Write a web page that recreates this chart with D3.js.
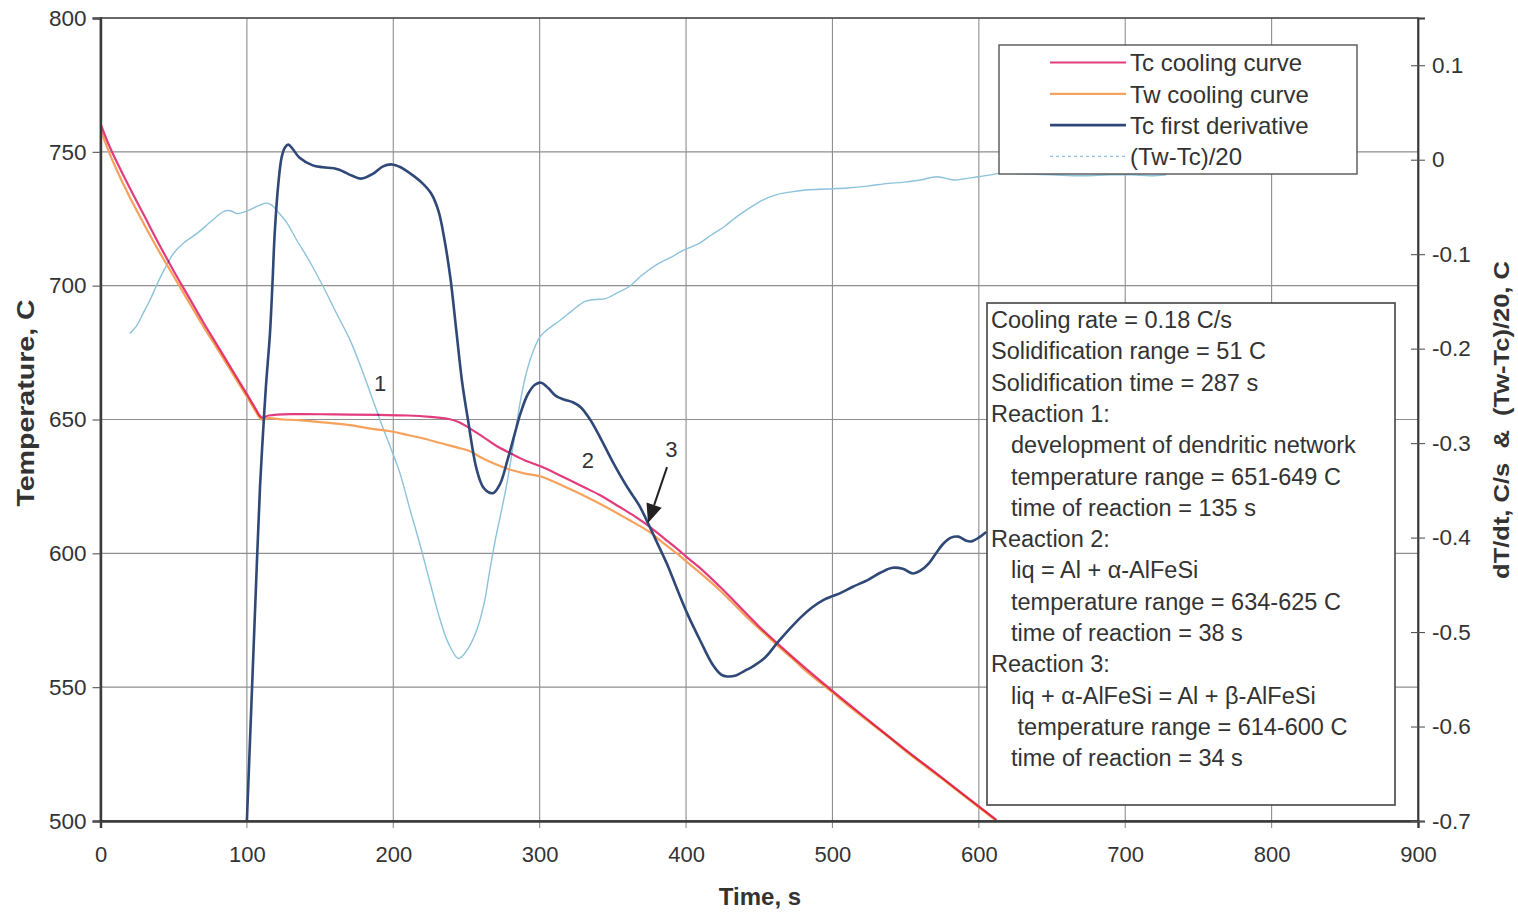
<!DOCTYPE html>
<html>
<head>
<meta charset="utf-8">
<script src="https://cdn.jsdelivr.net/npm/d3@7"></script>
<style>
  body { margin: 0; background: #fff; }
  text { font-family: "Liberation Sans", Arial, sans-serif; fill: #333; }
</style>
</head>
<body>
<svg id="chart" width="1518" height="912"></svg>
<script>
// ---- axis ticks ----
const timeTicks = [0, 100, 200, 300, 400, 500, 600, 700, 800, 900];
const tempTicks = [500, 550, 600, 650, 700, 750, 800];
const rateTicks = [-0.7, -0.6, -0.5, -0.4, -0.3, -0.2, -0.1, 0, 0.1];
const rateTickLabels = ["-0.7", "-0.6", "-0.5", "-0.4", "-0.3", "-0.2", "-0.1", "0", "0.1"];

// ---- Tc cooling curve (centre thermocouple), C ----
const tcTime = [0, 5, 10, 20, 30, 40, 50, 60, 70, 80, 90, 100, 106, 110, 115, 130, 160, 190, 210, 225, 238, 245, 252, 261, 270, 280, 290, 301, 315, 330, 341, 355, 365, 375, 385, 395, 400, 410, 423, 430, 450, 475, 500, 525, 550, 575, 600, 612];
const tcTemp = [760.5, 753.5, 747.5, 736.5, 726, 715.5, 705.5, 696, 686.5, 677.5, 668.5, 659.5, 654, 650.8, 651.5, 652, 651.9, 651.7, 651.5, 651, 650.2, 649, 646.8, 643.6, 640.3, 637.4, 634.7, 632.4, 628.8, 624.8, 621.8, 617.2, 613.8, 610, 605.6, 601.2, 598.8, 594.3, 587.6, 583.8, 572.6, 560.2, 548.6, 537.5, 526.6, 516.1, 505.5, 500.4];

// ---- Tw cooling curve (wall thermocouple), C ----
const twTime = [0, 5, 10, 20, 30, 40, 50, 60, 70, 80, 90, 100, 106, 110, 115, 125, 135, 152, 170, 186, 198, 210, 220, 232, 244, 252, 260, 266, 273, 280, 290, 301, 315, 330, 345, 360, 375, 385, 395, 400, 410, 423, 430, 443, 450, 462, 475, 482, 500, 510, 525, 538, 550, 575, 600, 612];
const twTemp = [758.5, 751, 744.5, 733, 722.7, 712.8, 703.5, 694.2, 685, 676.3, 667.4, 658.5, 653, 650, 650.5, 650, 649.8, 648.9, 647.9, 646.5, 645.6, 644.2, 643, 641.2, 639.5, 638.2, 635.8, 634.2, 632.6, 631.2, 629.8, 628.7, 625.4, 621.6, 617.4, 612.8, 608, 603.6, 599.4, 597.1, 592.5, 586.2, 582.5, 575.4, 571.8, 565.8, 559.5, 556, 548, 543.5, 537, 531.5, 526.1, 515.7, 505.1, 500];

// ---- Tc first derivative, C/s ----
const derivTime = [100, 103, 106, 109, 111, 113, 115.8, 117.5, 119, 121.5, 123.8, 126, 128.3, 131, 136, 145, 152, 162, 172, 178, 186, 193, 199, 205, 212, 220, 226, 231, 235, 239, 243, 247, 251, 257, 262, 268, 273, 278, 283, 287, 292, 297, 301, 306, 311, 317, 323, 328, 334, 341, 350, 360, 368, 375, 381, 387, 394, 401, 410, 418, 424, 428, 434, 440, 446, 454, 462, 470, 478, 486, 494, 500, 505, 514, 524, 533, 541, 548, 555, 560, 566, 571, 576, 581, 586, 591, 595, 600, 605];
const derivRate = [-0.700, -0.580, -0.460, -0.345, -0.290, -0.240, -0.183, -0.130, -0.078, -0.025, 0.003, 0.013, 0.016, 0.012, 0.002, -0.006, -0.008, -0.010, -0.017, -0.020, -0.015, -0.007, -0.005, -0.008, -0.015, -0.025, -0.036, -0.055, -0.085, -0.125, -0.180, -0.235, -0.275, -0.328, -0.348, -0.353, -0.343, -0.318, -0.290, -0.268, -0.248, -0.238, -0.236, -0.242, -0.250, -0.254, -0.257, -0.262, -0.274, -0.293, -0.320, -0.347, -0.366, -0.388, -0.408, -0.428, -0.455, -0.481, -0.510, -0.534, -0.545, -0.547, -0.546, -0.541, -0.536, -0.527, -0.512, -0.498, -0.485, -0.474, -0.466, -0.462, -0.459, -0.452, -0.445, -0.437, -0.432, -0.433, -0.438, -0.435, -0.427, -0.416, -0.406, -0.400, -0.399, -0.403, -0.404, -0.400, -0.394];

// ---- (Tw-Tc)/20, C ----
const diffTime = [20, 25, 29, 34, 38, 44, 50, 57, 66, 75, 84, 89, 93, 99, 104, 109, 113.5, 117, 120, 127, 134, 143, 152, 161, 170.5, 178, 186, 192, 198, 204.6, 211, 218, 225, 232, 238, 244.5, 250, 257, 262, 266, 270, 273, 277, 280, 284, 287, 291, 296, 300, 305, 314, 322, 331, 338, 345, 353, 361.5, 370, 381, 390, 398, 409, 417, 426, 434, 443, 452, 462, 472, 482, 496, 510, 524, 538, 548, 560, 571.5, 582.7, 591, 599.5, 608, 616, 630, 650, 670, 690, 705, 717, 728];
const diffValue = [-0.184, -0.175, -0.163, -0.148, -0.134, -0.115, -0.099, -0.088, -0.078, -0.066, -0.055, -0.054, -0.057, -0.055, -0.0515, -0.048, -0.046, -0.048, -0.053, -0.066, -0.085, -0.108, -0.134, -0.162, -0.191, -0.220, -0.254, -0.280, -0.304, -0.332, -0.368, -0.406, -0.447, -0.487, -0.513, -0.528, -0.520, -0.498, -0.470, -0.434, -0.400, -0.378, -0.348, -0.321, -0.282, -0.254, -0.225, -0.201, -0.188, -0.180, -0.170, -0.160, -0.150, -0.148, -0.147, -0.141, -0.134, -0.122, -0.110, -0.103, -0.096, -0.0885, -0.080, -0.071, -0.061, -0.0515, -0.043, -0.037, -0.034, -0.032, -0.031, -0.030, -0.028, -0.025, -0.024, -0.0215, -0.018, -0.0215, -0.020, -0.018, -0.016, -0.014, -0.015, -0.016, -0.017, -0.016, -0.016, -0.017, -0.016];

// ---- legend and notes ----
const seriesNames = ["Tc cooling curve", "Tw cooling curve", "Tc first derivative", "(Tw-Tc)/20"];
const infoLines = [
  "Cooling rate = 0.18 C/s",
  "Solidification range = 51 C",
  "Solidification time = 287 s",
  "Reaction 1:",
  "development of dendritic network",
  "temperature range = 651-649 C",
  "time of reaction = 135 s",
  "Reaction 2:",
  "liq = Al + \u03b1-AlFeSi",
  "temperature range = 634-625 C",
  "time of reaction = 38 s",
  "Reaction 3:",
  "liq + \u03b1-AlFeSi = Al + \u03b2-AlFeSi",
  " temperature range = 614-600 C",
  "time of reaction = 34 s"
];
const reactionMarks = ["1", "2", "3"];
const reactionMarkTime = [191, 333, 390];
const reactionMarkTemp = [663.6, 634.9, 639];
// arrow for reaction 3: from (time, temp) to (time, temp)
const arrowTime = [387, 374];
const arrowTemp = [632.2, 611.3];

// ---- styling ----
const colors = { tc: "#e23c7e", tw: "#f6a25c", deriv: "#2f4877", diff: "#8cc2da", grid: "#8e8e8e", frame: "#444" };

const svg = d3.select("#chart");
const L = 100.5, R = 1418, T = 18, B = 821;

const x = d3.scaleLinear().domain([0, 900]).range([L, R]);
const yT = d3.scaleLinear().domain([500, 800]).range([B, T]);
const yR = d3.scaleLinear().domain([-0.7, 0.15]).range([B, T]);

svg.append("defs").append("clipPath").attr("id", "plotClip")
  .append("rect").attr("x", L).attr("y", T).attr("width", R - L).attr("height", B - T);

// grid
const grid = svg.append("g");
grid.selectAll("line.v").data(timeTicks.filter(d => d > 0 && d < 900)).join("line")
  .attr("x1", d => x(d)).attr("x2", d => x(d)).attr("y1", T).attr("y2", B + 7)
  .attr("stroke", colors.grid).attr("stroke-width", 1.1);
grid.selectAll("line.h").data(tempTicks.filter(d => d > 500 && d < 800)).join("line")
  .attr("x1", L).attr("x2", R).attr("y1", d => yT(d)).attr("y2", d => yT(d))
  .attr("stroke", colors.grid).attr("stroke-width", 1.1);

// series
const plot = svg.append("g").attr("clip-path", "url(#plotClip)");
const curve = d3.curveCatmullRom.alpha(0.5);
const lineT = d3.line().x(d => x(d[0])).y(d => yT(d[1])).curve(curve);
const lineR = d3.line().x(d => x(d[0])).y(d => yR(d[1])).curve(curve);

plot.append("path").datum(d3.zip(diffTime, diffValue)).attr("d", lineR)
  .attr("fill", "none").attr("stroke", colors.diff).attr("stroke-width", 1.4);
plot.append("path").datum(d3.zip(twTime, twTemp)).attr("d", lineT)
  .attr("fill", "none").attr("stroke", colors.tw).attr("stroke-width", 2.2);
plot.append("path").datum(d3.zip(tcTime, tcTemp)).attr("d", lineT)
  .attr("fill", "none").attr("stroke", colors.tc).attr("stroke-width", 2.2)
  .style("mix-blend-mode", "multiply");
plot.append("path").datum(d3.zip(derivTime, derivRate)).attr("d", lineR)
  .attr("fill", "none").attr("stroke", colors.deriv).attr("stroke-width", 2.6)
  .attr("stroke-linejoin", "round");

// frame
svg.append("rect").attr("x", L).attr("y", T).attr("width", R - L).attr("height", B - T)
  .attr("fill", "none").attr("stroke", colors.frame).attr("stroke-width", 1.6);

// axes
const axL = svg.append("g").attr("transform", `translate(${L},0)`)
  .call(d3.axisLeft(yT).tickValues(tempTicks).tickSize(8).tickPadding(6).tickFormat(d3.format("d")));
const axB = svg.append("g").attr("transform", `translate(0,${B})`)
  .call(d3.axisBottom(x).tickValues(timeTicks).tickSize(7).tickPadding(18).tickFormat(d3.format("d")));
const axR = svg.append("g").attr("transform", `translate(${R},0)`)
  .call(d3.axisRight(yR).tickValues(rateTicks).tickSize(7).tickPadding(7)
    .tickFormat((d, i) => rateTickLabels[i]));
axR.selectAll(".tick line").attr("x1", -7);
[axL, axB, axR].forEach(a => {
  a.select(".domain").attr("stroke", "#3a3a3a").attr("stroke-width", 2.4);
  a.selectAll(".tick line").attr("stroke", "#555").attr("stroke-width", 1.1);
  a.selectAll(".tick text").attr("font-size", "22.5px").attr("fill", "#333")
    .attr("font-family", "Liberation Sans, Arial, sans-serif");
});
axB.selectAll(".tick text").attr("font-size", "22px");
axR.select(".domain").attr("stroke-width", 1.8);
axB.selectAll(".tick line").attr("stroke", "none");

// axis titles
svg.append("text").attr("x", 760).attr("y", 905).attr("text-anchor", "middle")
  .attr("font-size", "24px").attr("font-weight", "bold").text("Time, s");
svg.append("text").attr("transform", "translate(34,403) rotate(-90) scale(1.19,1)").attr("text-anchor", "middle")
  .attr("font-size", "24px").attr("font-weight", "bold").text("Temperature, C");
svg.append("text").attr("transform", "translate(1509,420) rotate(-90) scale(1.16,1)").attr("text-anchor", "middle")
  .attr("font-size", "22px").attr("font-weight", "bold").style("white-space", "pre")
  .text("dT/dt, C/s  &  (Tw-Tc)/20, C");

// reaction marks
svg.selectAll("text.mark").data(reactionMarks).join("text")
  .attr("x", (d, i) => x(reactionMarkTime[i])).attr("y", (d, i) => yT(reactionMarkTemp[i]))
  .attr("dy", "0.35em").attr("text-anchor", "middle").attr("font-size", "22px").text(d => d);

// arrow
{
  const x0 = x(arrowTime[0]), y0 = yT(arrowTemp[0]), x1 = x(arrowTime[1]), y1 = yT(arrowTemp[1]);
  const len = Math.hypot(x1 - x0, y1 - y0), ux = (x1 - x0) / len, uy = (y1 - y0) / len;
  const hl = 19, hw = 8;
  const bx = x1 - ux * hl, by = y1 - uy * hl;
  svg.append("line").attr("x1", x0).attr("y1", y0).attr("x2", bx).attr("y2", by)
    .attr("stroke", "#222").attr("stroke-width", 2);
  svg.append("path")
    .attr("d", `M${x1},${y1}L${bx - uy * hw},${by + ux * hw}L${bx + uy * hw},${by - ux * hw}Z`)
    .attr("fill", "#222");
}

// legend
const leg = svg.append("g");
leg.append("rect").attr("x", 999).attr("y", 45).attr("width", 358).attr("height", 129)
  .attr("fill", "#fff").attr("stroke", "#555").attr("stroke-width", 1.4);
const legColors = [colors.tc, colors.tw, colors.deriv, colors.diff];
const legWidths = [2.2, 2.2, 2.6, 1.4];
seriesNames.forEach((name, i) => {
  const yy = 62.5 + i * 31.3;
  leg.append("line").attr("x1", 1050).attr("x2", 1126).attr("y1", yy).attr("y2", yy)
    .attr("stroke", legColors[i]).attr("stroke-width", legWidths[i])
    .attr("stroke-dasharray", i === 3 ? "3,3" : null);
  leg.append("text").attr("x", 1130).attr("y", yy + 8.8).attr("font-size", "24px").text(name);
});

// notes box
const info = svg.append("g");
info.append("rect").attr("x", 987).attr("y", 303).attr("width", 408).attr("height", 502)
  .attr("fill", "#fff").attr("stroke", "#444").attr("stroke-width", 1.6);
info.selectAll("text").data(infoLines).join("text")
  .attr("x", (d, i) => ([0, 1, 2, 3, 7, 11].includes(i) ? 991 : 1011))
  .attr("y", (d, i) => 328 + i * 31.3)
  .attr("font-size", "23.5px").style("white-space", "pre").text(d => d);
</script>
</body>
</html>
